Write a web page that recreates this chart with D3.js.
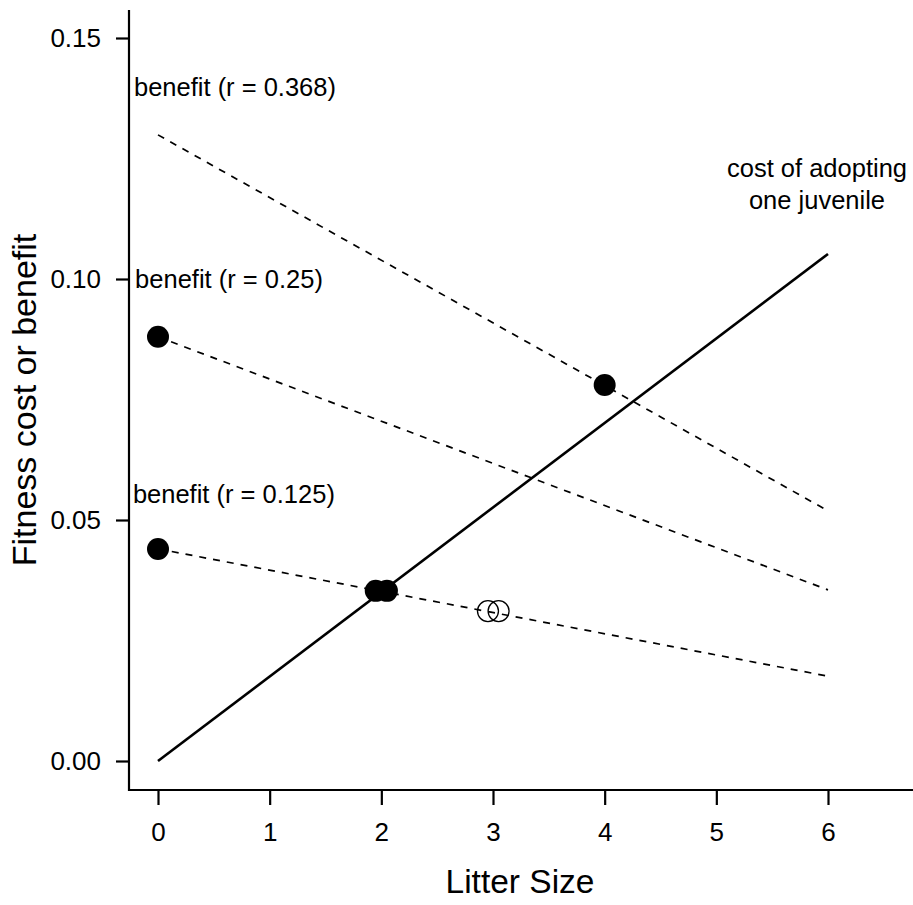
<!DOCTYPE html>
<html><head><meta charset="utf-8">
<script src="https://cdn.jsdelivr.net/npm/d3@7"></script>
<style>body{margin:0;background:#fff}svg{display:block}text{font-family:"Liberation Sans",Arial,sans-serif;fill:#000}</style>
</head><body>
<script>
// Data
const xTicks = [0,1,2,3,4,5,6];
const yTicks = [0.00,0.05,0.10,0.15];
const costLine = [[0,0],[6,0.1052]];
const benefit368 = [[0,0.1299],[6,0.0519]];
const benefit25 = [[0,0.0880],[6,0.0355]];
const benefit125 = [[0,0.0440],[6,0.0176]];
const filledPts = [[0,0.0880],[0,0.0440],[1.95,0.0353],[2.05,0.0353],[4,0.0780]];
const openPts = [[2.955,0.0311],[3.05,0.0311]];
const labels = [
  {text:"benefit (r = 0.368)", x:-0.215, y:0.1380},
  {text:"benefit (r = 0.25)", x:-0.205, y:0.0981},
  {text:"benefit (r = 0.125)", x:-0.225, y:0.0535}
];
const costLabel = ["cost of adopting","one juvenile"];

const W=913,H=905;
const svg=d3.select("body").append("svg").attr("width",W).attr("height",H);
const x=d3.scaleLinear().domain([0,6]).range([158,828]);
const y=d3.scaleLinear().domain([0,0.15]).range([761,38]);

// axes
const xAxis=svg.append("g").attr("transform","translate(0,790)")
  .call(d3.axisBottom(x).tickValues(xTicks).tickFormat(d3.format("d")).tickSize(15).tickSizeOuter(0).tickPadding(18));
xAxis.select(".domain").remove();
svg.append("line").attr("x1",128).attr("x2",913).attr("y1",790).attr("y2",790).attr("stroke","#000").attr("stroke-width",2.2);
const yAxis=svg.append("g").attr("transform","translate(129,0)")
  .call(d3.axisLeft(y).tickValues(yTicks).tickFormat(d3.format(".2f")).tickSize(13).tickSizeOuter(0).tickPadding(15));
yAxis.select(".domain").remove();
svg.append("line").attr("x1",129).attr("x2",129).attr("y1",10).attr("y2",791).attr("stroke","#000").attr("stroke-width",2.2);
svg.selectAll(".tick line").attr("stroke","#000").attr("stroke-width",2.2);
svg.selectAll(".tick text").style("font-size","26px").style("font-family","Liberation Sans, Arial, sans-serif").attr("fill","#000");

const line=d3.line().x(d=>x(d[0])).y(d=>y(d[1]));
[benefit368,benefit25,benefit125].forEach(b=>{
  svg.append("path").attr("d",line(b)).attr("fill","none").attr("stroke","#000").attr("stroke-width",1.7).attr("stroke-dasharray","7,7");
});
svg.append("path").attr("d",line(costLine)).attr("fill","none").attr("stroke","#000").attr("stroke-width",2.6);

svg.selectAll(".fp").data(filledPts).enter().append("circle")
  .attr("cx",d=>x(d[0])).attr("cy",d=>y(d[1])).attr("r",11).attr("fill","#000");
svg.selectAll(".op").data(openPts).enter().append("circle")
  .attr("cx",d=>x(d[0])).attr("cy",d=>y(d[1])).attr("r",10.5).attr("fill","none").attr("stroke","#000").attr("stroke-width",1.3);

svg.selectAll(".lab").data(labels).enter().append("text")
  .attr("x",d=>x(d.x)).attr("y",d=>y(d.y)).attr("text-anchor","start").style("font-size","25.5px").text(d=>d.text);
svg.append("text").attr("x",817).attr("y",177).attr("text-anchor","middle").style("font-size","25.5px").text(costLabel[0]);
svg.append("text").attr("x",817).attr("y",209).attr("text-anchor","middle").style("font-size","25.5px").text(costLabel[1]);

svg.append("text").attr("x",520).attr("y",893).attr("text-anchor","middle").style("font-size","33.5px").text("Litter Size");
svg.append("text").attr("transform","translate(36,400) rotate(-90)").attr("text-anchor","middle").style("font-size","34px").text("Fitness cost or benefit");
</script>
</body></html>
